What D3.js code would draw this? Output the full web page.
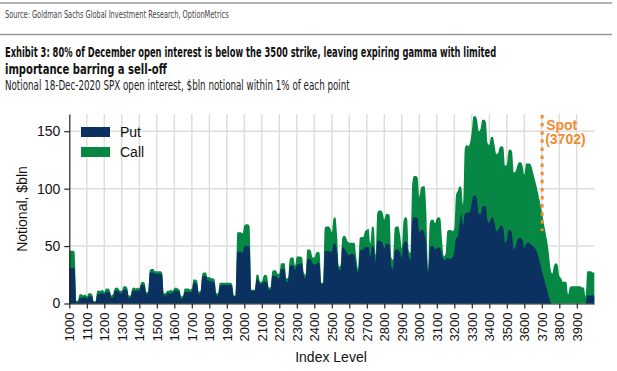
<!DOCTYPE html>
<html><head><meta charset="utf-8">
<script src="https://cdn.jsdelivr.net/npm/d3@7"></script>
<style>body{margin:0;background:#fff} svg{display:block}</style>
</head><body><svg id="c" width="617" height="371"></svg>
<script>
// ---- Data (one value per 10 index points) ----
const levelStart = 1000, levelEnd = 4000, levelStep = 10;
// Total open interest (Put + Call), $bln, grouped per 100 index points
const totalRows = [
 [46,46,46,45,2,3,8,8,7,8],          // 1000
 [6,9,9,8,2,2,11,11,11,12],          // 1100
 [10,13,13,12,7,8,13,14,13,11],      // 1200
 [11,15,15,14,7,7,13,14,13,14],      // 1300
 [13,18,19,18,10,10,29,30,30,28],    // 1400
 [28,28,28,27,9,9,11,11,12,11],      // 1500
 [13,14,13,12,6,7,13,13,13,12],      // 1600
 [13,21,21,20,10,11,26,27,27,23],    // 1700
 [23,22,22,21,9,9,18,18,18,18],      // 1800
 [18,18,18,17,7,7,62,62,62,61],      // 1900
 [68,69,69,67,12,12,12,25,25,19],    // 2000
 [19,24,25,24,14,14,28,29,29,26],    // 2100
 [26,35,35,35,22,22,39,40,40,33],    // 2200
 [41,41,41,40,27,25,47,47,46,40],    // 2300
 [40,44,45,44,18,18,66,67,67,66],    // 2400
 [62,74,75,60,32,33,57,59,58,54],    // 2500
 [53,53,53,53,40,30,57,58,58,63],    // 2600
 [64,65,52,67,66,42,79,81,81,79],    // 2700
 [73,78,78,77,40,38,66,67,67,60],    // 2800
 [48,72,75,74,46,44,105,111,111,110],// 2900
 [93,101,102,102,80,29,70,73,73,70], // 3000
 [74,75,74,55,41,43,63,64,64,63],    // 3100
 [65,95,98,102,101,86,135,138,137,140], // 3200
 [150,163,163,160,150,152,160,160,158,140], // 3300
 [138,145,145,138,130,131,136,137,136,120], // 3400
 [121,133,134,132,114,115,120,123,123,120], // 3500
 [112,122,122,122,120,114,108,102,95,88],   // 3600
 [80,71,63,55,44,30,26,33,35,34],    // 3700
 [24,22,19,19,19,8,14,15,15,15],     // 3800
 [15,15,15,14,14,6,28,28,28,27],     // 3900
 [27]                                // 4000
];
// Put open interest, $bln
const putRows = [
 [31,31,31,31,1,1,5,5,5,6],
 [4,6,6,6,1,1,8,8,9,9],
 [8,10,10,10,5,5,11,11,11,9],
 [9,12,12,12,5,5,11,11,11,11],
 [11,16,16,16,8,8,27,27,27,26],
 [26,26,26,25,7,7,9,9,9,9],
 [11,11,11,10,4,5,10,10,10,10],
 [10,18,18,17,8,9,23,24,24,20],
 [20,19,19,18,7,7,15,16,16,16],
 [16,16,16,15,6,6,45,45,45,44],
 [50,50,50,49,11,11,11,21,21,17],
 [17,19,19,19,12,12,24,24,24,22],
 [22,30,30,30,19,19,33,33,33,29],
 [34,34,35,34,24,22,38,39,38,35],
 [34,34,36,34,17,17,45,46,46,45],
 [45,52,52,45,30,29,49,48,46,43],
 [42,43,43,42,32,27,45,47,47,49],
 [49,49,41,50,49,36,54,55,54,53],
 [48,52,52,51,32,30,46,47,47,44],
 [40,52,54,53,40,38,72,75,75,74],
 [62,64,64,60,50,27,48,50,50,47],
 [48,49,48,42,38,38,40,39,39,40],
 [45,57,58,70,78,68,78,79,79,80],
 [88,94,94,90,78,78,84,85,85,72],
 [70,74,75,70,63,64,67,68,66,53],
 [55,64,64,60,47,50,55,57,57,55],
 [48,52,53,53,51,50,48,46,41,35],
 [29,23,17,12,6,1,0,0,0,0],
 [0,0,0,0,0,0,0,0,0,0],
 [0,0,0,0,0,0,7,7,7,7],
 [7]
];
const yTicks = [0, 50, 100, 150];
const xTicks = [1000,1100,1200,1300,1400,1500,1600,1700,1800,1900,2000,2100,2200,2300,2400,2500,2600,2700,2800,2900,3000,3100,3200,3300,3400,3500,3600,3700,3800,3900];
const seriesNames = ["Put", "Call"];
const spotLevel = 3702;

const totals = totalRows.flat();
const puts = putRows.flat();
const levels = d3.range(levelStart, levelEnd + 1, levelStep);
const data = levels.map((lv, i) => ({lv, total: totals[i], put: puts[i]}));

// ---- Drawing ----
const svg = d3.select("#c");
const navy = "#0b3161", green = "#078744", orange = "#f28a30";
const hdrFont = "'Liberation Sans Narrow','Arial Narrow','DejaVu Sans Condensed',sans-serif";
const font = "'Liberation Sans',Arial,sans-serif";

// header text squeezed horizontally to the reference's condensed width
function hdr(txt, yy, size, weight, fill, len) {
  const t = svg.append("text").attr("x",0).attr("y",0).attr("font-family",hdrFont).attr("font-size",size)
    .attr("font-weight",weight).attr("fill",fill).text(txt);
  const w = t.node().getComputedTextLength();
  t.attr("transform", `translate(5,${yy}) scale(${len / w},1)`);
}

// header
svg.append("line").attr("x1",0).attr("x2",612).attr("y1",3).attr("y2",3).attr("stroke","#9a9a9a").attr("stroke-width",1.5);
hdr("Source: Goldman Sachs Global Investment Research, OptionMetrics", 18, 10.5, "normal", "#444", 224);
svg.append("line").attr("x1",0).attr("x2",612).attr("y1",34.5).attr("y2",34.5).attr("stroke","#9a9a9a").attr("stroke-width",1.5);
hdr("Exhibit 3: 80% of December open interest is below the 3500 strike, leaving expiring gamma with limited", 57, 14, "bold", "#111", 492);
hdr("importance barring a sell-off", 74, 14, "bold", "#111", 162);
hdr("Notional 18-Dec-2020 SPX open interest, $bln notional within 1% of each point", 90, 13.5, "normal", "#222", 345);

// scales
const x = d3.scaleLinear().domain([levelStart, levelEnd]).range([69.3, 594.3]);
const y = d3.scaleLinear().domain([0, 165]).range([303.5, 114]);

// grid
const g = svg.append("g");
g.selectAll(".hg").data(yTicks.filter(d => d > 0)).join("line")
  .attr("x1", x(levelStart)).attr("x2", x(levelEnd)).attr("y1", d => y(d)).attr("y2", d => y(d))
  .attr("stroke","#dedede").attr("stroke-width",1.5);
g.selectAll(".vg").data(xTicks.filter(d => d > levelStart)).join("line")
  .attr("x1", d => x(d)).attr("x2", d => x(d)).attr("y1", y(0)).attr("y2", y(165))
  .attr("stroke","#dedede").attr("stroke-width",1.5);

// areas
const areaTotal = d3.area().x(d => x(d.lv)).y0(y(0)).y1(d => y(d.total)).curve(d3.curveMonotoneX);
const areaPut = d3.area().x(d => x(d.lv)).y0(y(0)).y1(d => y(d.put)).curve(d3.curveMonotoneX);
svg.append("path").datum(data).attr("d", areaTotal).attr("fill", green);
svg.append("path").datum(data).attr("d", areaPut).attr("fill", navy);

// axes
const ya = svg.append("g").attr("transform", `translate(${x(levelStart)},0)`)
  .call(d3.axisLeft(y).tickValues(yTicks).tickSize(5).tickSizeOuter(0).tickPadding(4));
ya.selectAll("text").attr("font-family", font).attr("font-size", 14).attr("fill","#111");
ya.selectAll("line,path").attr("stroke","#222").attr("stroke-width",1.2);

const xa = svg.append("g").attr("transform", `translate(0,${y(0)})`)
  .call(d3.axisBottom(x).tickValues(xTicks).tickSize(5).tickSizeOuter(0).tickFormat(d3.format("d")));
xa.selectAll("line,path").attr("stroke","#222").attr("stroke-width",1.2);
xa.selectAll("text").attr("font-family", font).attr("font-size", 13).attr("fill","#111")
  .attr("transform", "rotate(-90)").attr("text-anchor","end")
  .attr("x", -9).attr("y", 0).attr("dy", "0.35em");

// axis titles
svg.append("text").attr("transform", "translate(27,209) rotate(-90)").attr("text-anchor","middle")
  .attr("font-family", font).attr("font-size", 14).attr("fill","#111").text("Notional, $bln");
svg.append("text").attr("x", 331).attr("y", 362).attr("text-anchor","middle")
  .attr("font-family", font).attr("font-size", 14).attr("fill","#111").text("Index Level");

// legend
const leg = svg.append("g");
const legColors = [navy, green];
seriesNames.forEach((nm, i) => {
  leg.append("rect").attr("x", 81).attr("y", 127 + i*20).attr("width", 29).attr("height", 10).attr("fill", legColors[i]);
  leg.append("text").attr("x", 120).attr("y", 137 + i*20).attr("font-family", font).attr("font-size", 14).attr("fill","#111").text(nm);
});

// spot line
svg.append("line").attr("x1", x(spotLevel)).attr("x2", x(spotLevel)).attr("y1", 115).attr("y2", 231)
  .attr("stroke", orange).attr("stroke-width", 3).attr("stroke-dasharray", "3.5,4.6");
svg.append("text").attr("x", x(spotLevel) + 4).attr("y", 129.5).attr("font-family", font).attr("font-size", 14)
  .attr("font-weight","bold").attr("fill", orange).text("Spot");
svg.append("text").attr("x", x(spotLevel) + 3).attr("y", 144).attr("font-family", font).attr("font-size", 14)
  .attr("font-weight","bold").attr("fill", orange).text(`(${spotLevel})`);
</script></body></html>
